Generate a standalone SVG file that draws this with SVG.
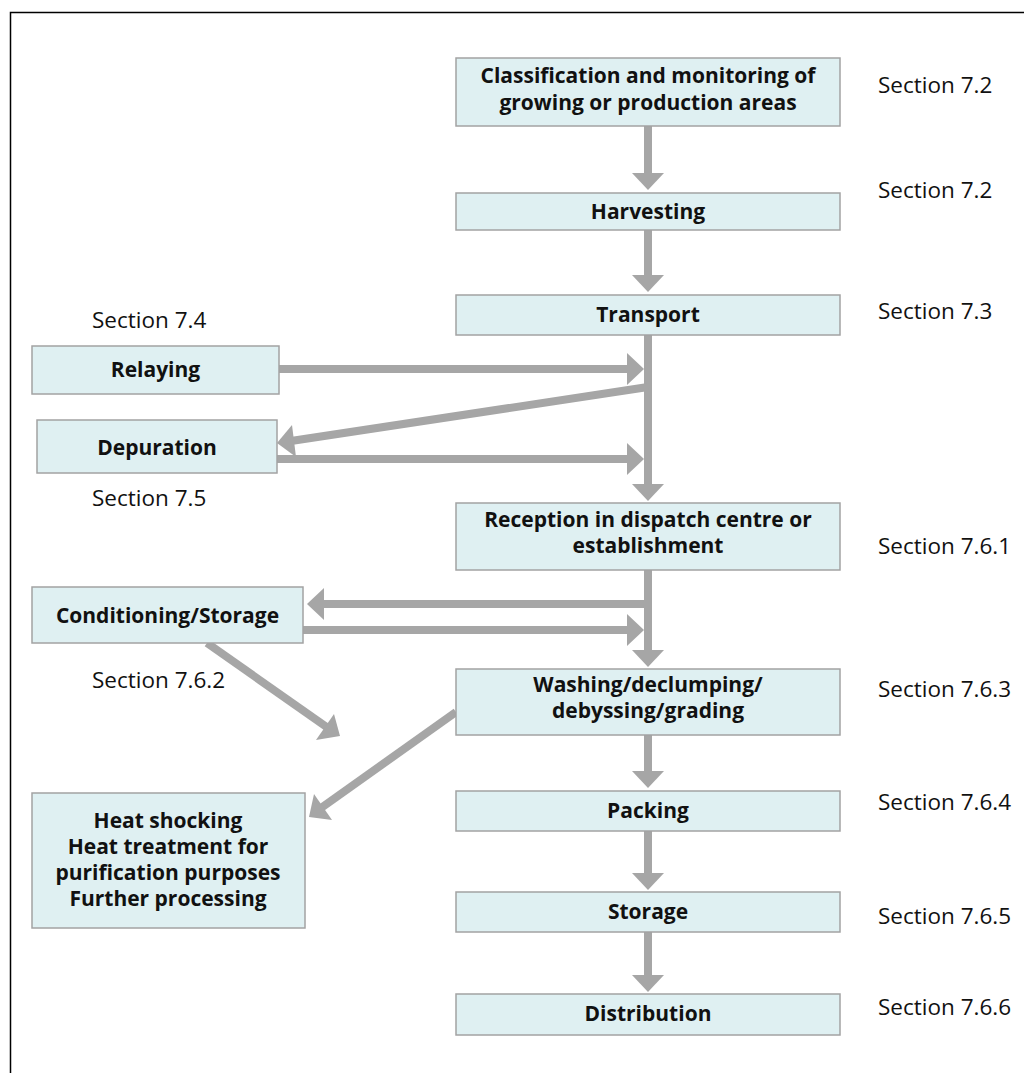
<svg xmlns="http://www.w3.org/2000/svg" width="1024" height="1073" viewBox="0 0 1024 1073">
<style>
.box{fill:#dff0f2;stroke:#a3a3a3;stroke-width:1.5}
.t{font-family:"Open Sans","Liberation Sans",sans-serif;font-weight:bold;font-size:21px;fill:#111;text-anchor:middle}
.s{font-family:"Open Sans","Liberation Sans",sans-serif;font-size:22.5px;fill:#111}
.ln{stroke:#a6a6a6;stroke-width:8;fill:none}
.hd{fill:#a6a6a6}
</style>
<rect x="10.5" y="12.5" width="1100" height="1100" fill="#fff" stroke="#000" stroke-width="1.5"/>
<g id="connectors">
<line class="ln" x1="648" y1="126" x2="648" y2="176"/><polygon class="hd" points="632,173 664,173 648,190"/>
<line class="ln" x1="648" y1="230" x2="648" y2="278"/><polygon class="hd" points="632,275 664,275 648,292"/>
<line class="ln" x1="648" y1="335" x2="648" y2="487"/><polygon class="hd" points="632,484 664,484 648,501"/>
<line class="ln" x1="279" y1="369" x2="630" y2="369"/><polygon class="hd" points="627,353 627,385 644,369"/>
<line class="ln" x1="277" y1="459" x2="630" y2="459"/><polygon class="hd" points="627,443 627,475 644,459"/>
<line class="ln" x1="648" y1="387" x2="291" y2="441"/><polygon class="hd" points="277,443 292,425 296,457"/>
<line class="ln" x1="648" y1="570" x2="648" y2="653"/><polygon class="hd" points="632,650 664,650 648,667"/>
<line class="ln" x1="648" y1="604" x2="321" y2="604"/><polygon class="hd" points="324,588 324,620 307,604"/>
<line class="ln" x1="303" y1="630" x2="630" y2="630"/><polygon class="hd" points="627,614 627,646 644,630"/>
<line class="ln" x1="207" y1="643" x2="328" y2="728"/><polygon class="hd" points="340,736 334,714 316,740"/>
<line class="ln" x1="456" y1="712" x2="321" y2="808"/><polygon class="hd" points="309,817 314,794 332,820"/>
<line class="ln" x1="648" y1="735" x2="648" y2="774"/><polygon class="hd" points="632,771 664,771 648,788"/>
<line class="ln" x1="648" y1="831" x2="648" y2="876"/><polygon class="hd" points="632,873 664,873 648,890"/>
<line class="ln" x1="648" y1="932" x2="648" y2="978"/><polygon class="hd" points="632,975 664,975 648,992"/>
</g>
<g id="classification"><rect class="box" x="456" y="58" width="384" height="68"/><text class="t" x="648" y="83">Classification and monitoring of</text><text class="t" x="648" y="110">growing or production areas</text></g>
<g id="harvesting"><rect class="box" x="456" y="193" width="384" height="37"/><text class="t" x="648" y="219">Harvesting</text></g>
<g id="transport"><rect class="box" x="456" y="295" width="384" height="40"/><text class="t" x="648" y="322">Transport</text></g>
<g id="reception"><rect class="box" x="456" y="503" width="384" height="67"/><text class="t" x="648" y="527">Reception in dispatch centre or</text><text class="t" x="648" y="553">establishment</text></g>
<g id="washing"><rect class="box" x="456" y="669" width="384" height="66"/><text class="t" x="648" y="692">Washing/declumping/</text><text class="t" x="648" y="718">debyssing/grading</text></g>
<g id="packing"><rect class="box" x="456" y="791" width="384" height="40"/><text class="t" x="648" y="818">Packing</text></g>
<g id="storage"><rect class="box" x="456" y="892" width="384" height="40"/><text class="t" x="648" y="919">Storage</text></g>
<g id="distribution"><rect class="box" x="456" y="994" width="384" height="41"/><text class="t" x="648" y="1021">Distribution</text></g>
<g id="relaying"><rect class="box" x="32" y="346" width="247" height="48"/><text class="t" x="155.5" y="377">Relaying</text></g>
<g id="depuration"><rect class="box" x="37" y="420" width="240" height="53"/><text class="t" x="157" y="455">Depuration</text></g>
<g id="conditioning"><rect class="box" x="32" y="587" width="271" height="56"/><text class="t" x="167.5" y="623">Conditioning/Storage</text></g>
<g id="heat"><rect class="box" x="32" y="793" width="273" height="135"/><text class="t" x="168" y="828">Heat shocking</text><text class="t" x="168" y="854">Heat treatment for</text><text class="t" x="168" y="880">purification purposes</text><text class="t" x="168" y="906">Further processing</text></g>
<g id="labels">
<text class="s" x="878" y="93">Section 7.2</text>
<text class="s" x="878" y="198">Section 7.2</text>
<text class="s" x="878" y="319">Section 7.3</text>
<text class="s" x="878" y="554">Section 7.6.1</text>
<text class="s" x="878" y="697">Section 7.6.3</text>
<text class="s" x="878" y="810">Section 7.6.4</text>
<text class="s" x="878" y="924">Section 7.6.5</text>
<text class="s" x="878" y="1015">Section 7.6.6</text>
<text class="s" x="92" y="328">Section 7.4</text>
<text class="s" x="92" y="506">Section 7.5</text>
<text class="s" x="92" y="688">Section 7.6.2</text>
</g>
</svg>
